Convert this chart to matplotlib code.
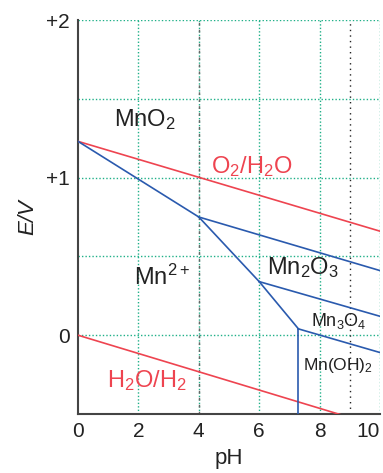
import matplotlib
matplotlib.use("Agg")
from matplotlib import pyplot as plt

plt.rcParams["font.family"] = ["Liberation Sans", "DejaVu Sans"]
plt.rcParams["mathtext.default"] = "regular"

# water stability lines
o2_ph = [0, 10]
o2_e = [1.23, 0.66]
h2_ph = [0, 10]
h2_e = [0.0, -0.58]

# manganese boundaries (pH, E)
mno2_mn2_ph = [0, 4]
mno2_mn2_e = [1.23, 0.75]
mno2_mn2o3_ph = [4, 10]
mno2_mn2o3_e = [0.75, 0.41]
mn2o3_mn2_ph = [4, 6]
mn2o3_mn2_e = [0.75, 0.34]
mn2o3_mn3o4_ph = [6, 10]
mn2o3_mn3o4_e = [0.34, 0.12]
mn3o4_mn2_ph = [6, 7.3]
mn3o4_mn2_e = [0.34, 0.04]
mn3o4_mnoh2_ph = [7.3, 10]
mn3o4_mnoh2_e = [0.04, -0.11]
mnoh2_mn2_ph = [7.3, 7.3]
mnoh2_mn2_e = [0.04, -0.5]

xticks = [0, 2, 4, 6, 8, 10]
yticks = [0, 1, 2]
yticklabels = ["0", "+1", "+2"]

red = "#ee4450"
blue = "#2a5aae"
green = "#1fb088"
dark = "#444444"
txt = "#222222"

fig = plt.figure(figsize=(3.83, 4.73), dpi=100)
ax = fig.add_axes([78/383, 59/473, 302/383, 394/473])
ax.set_xlim(0, 10)
ax.set_ylim(-0.5, 2)

# grid
for x in [2, 4, 6, 8, 10]:
    ax.axvline(x, color=green, lw=1, ls=(0, (1, 1.5)), zorder=1)
for y in [0, 0.5, 1, 1.5, 2]:
    ax.axhline(y, color=green, lw=1, ls=(0, (1, 1.5)), zorder=1)
ax.axvline(4, color="#666666", lw=1, ls=(0, (2, 3)), zorder=1)
ax.axvline(9, color="#222222", lw=1, ls=(0, (1, 3)), zorder=1)

ax.plot(o2_ph, o2_e, color=red, lw=1.2, zorder=3)
ax.plot(h2_ph, h2_e, color=red, lw=1.2, zorder=3)

for xs, ys in [(mno2_mn2_ph, mno2_mn2_e), (mno2_mn2o3_ph, mno2_mn2o3_e),
               (mn2o3_mn2_ph, mn2o3_mn2_e), (mn2o3_mn3o4_ph, mn2o3_mn3o4_e),
               (mn3o4_mn2_ph, mn3o4_mn2_e), (mn3o4_mnoh2_ph, mn3o4_mnoh2_e),
               (mnoh2_mn2_ph, mnoh2_mn2_e)]:
    ax.plot(xs, ys, color=blue, lw=1.2, zorder=3)

for s in ["top", "right"]:
    ax.spines[s].set_visible(False)
for s in ["left", "bottom"]:
    ax.spines[s].set_color(dark)
    ax.spines[s].set_linewidth(1.5)

ax.set_xticks(xticks)
ax.set_yticks(yticks)
ax.set_yticklabels(yticklabels)
ax.tick_params(length=0, labelsize=15, colors=txt, pad=6)
ax.get_xticklabels()[-1].set_horizontalalignment("right")

ax.set_xlabel("pH", fontsize=16, color=txt, labelpad=5)
ax.set_ylabel("E/V", fontsize=16, color=txt, style="italic")
ax.yaxis.set_label_coords(-0.13, 0.5)

ax.text(1.2, 1.37, "MnO$_2$", fontsize=17, color=txt, va="center")
ax.text(4.4, 1.07, "O$_2$/H$_2$O", fontsize=17, color=red, va="center")
ax.text(1.85, 0.37, "Mn$^{2+}$", fontsize=17, color=txt, va="center")
ax.text(0.95, -0.29, "H$_2$O/H$_2$", fontsize=17, color=red, va="center")
ax.text(6.25, 0.43, "Mn$_2$O$_3$", fontsize=17, color=txt, va="center")
ax.text(7.7, 0.09, "Mn$_3$O$_4$", fontsize=13, color=txt, va="center")
ax.text(7.45, -0.19, "Mn(OH)$_2$", fontsize=12.5, color=txt, va="center")

plt.savefig("out.png", dpi=100)
